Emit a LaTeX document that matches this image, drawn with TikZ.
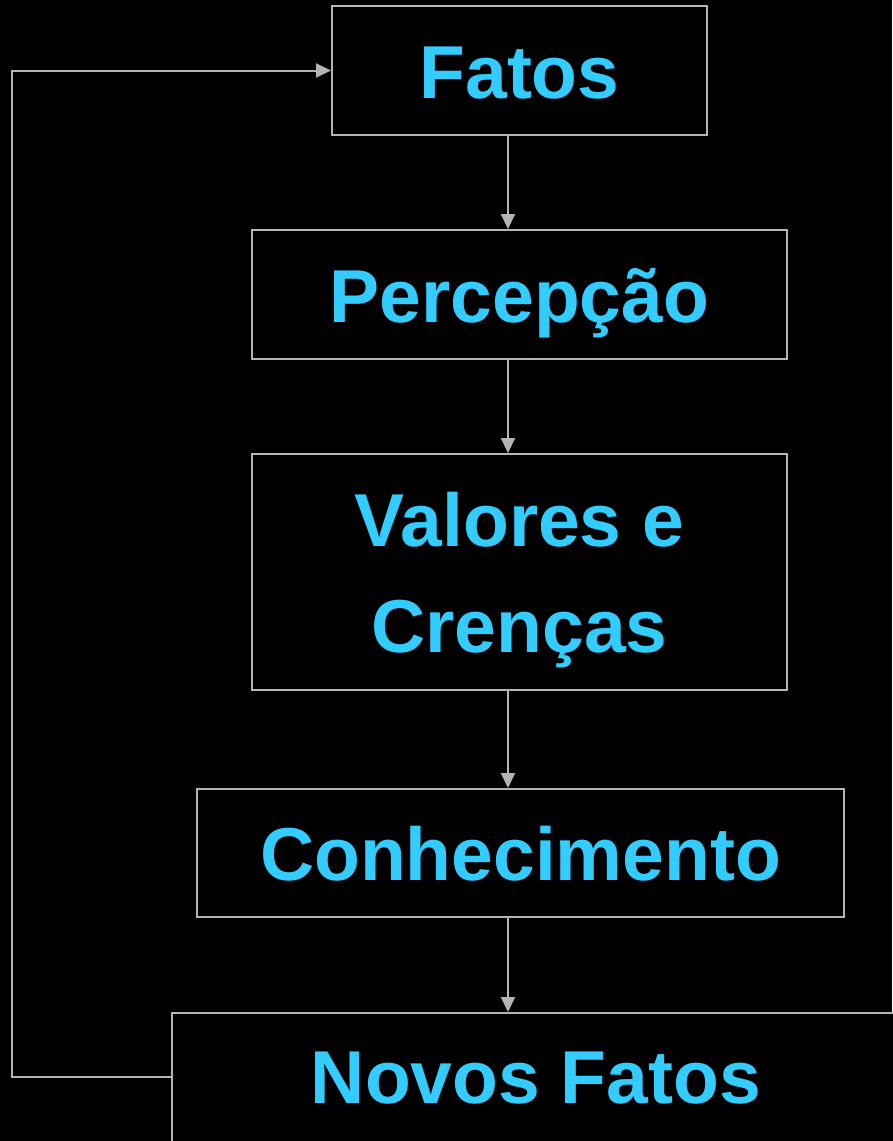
\documentclass[tikz,border=0pt]{standalone}
\usepackage{fontspec}
\setmainfont{Liberation Sans}
\usetikzlibrary{arrows.meta}
\definecolor{txtblue}{HTML}{33CCFF}
\definecolor{linegray}{HTML}{B4B4B4}
\begin{document}
\begin{tikzpicture}[x=1pt,y=-1pt,
  bigtext/.style={text=txtblue, font=\fontsize{75}{107}\selectfont\bfseries, inner sep=0pt,
    text height=55pt, text depth=0pt},
  box/.style={bigtext, draw=linegray, line width=2pt, fill=black},
  conn/.style={draw=linegray, line width=2pt, -{Triangle[length=15pt,width=14pt]}}]
\fill[black] (0,0) rectangle (892,1141);
\useasboundingbox (0,0) rectangle (892,1141);
\node[box, minimum width=375pt, minimum height=129pt] (fatos) at (519.5,70.5) {Fatos};
\node[box, minimum width=535pt, minimum height=129pt] (perc) at (519.5,294.5) {Percepção};
\node[box, minimum width=535pt, minimum height=236pt, text height=55pt, text depth=106.7pt] (val) at (519.5,572)
  {\vtop{\baselineskip=106.7pt\halign{\hfil#\hfil\cr Valores e\cr Crenças\cr}}};
\node[box, minimum width=647pt, minimum height=128pt] (con) at (520.5,853) {Conhecimento};
\node[box, minimum width=760pt, minimum height=160pt] (nf) at (552,1093) {};
\node[bigtext] (nft) at (536,1076) {Novos Fatos};
\coordinate (c1) at (508,0);
\draw[conn] (fatos.south -| c1) -- (perc.north -| c1);
\draw[conn] (perc.south -| c1) -- (val.north -| c1);
\draw[conn] (val.south -| c1) -- (con.north -| c1);
\draw[conn] (con.south -| c1) -- (nf.north -| c1);
\coordinate (lft) at (12,0);
\coordinate (fb) at (0,1077);
\draw[conn] (nf.west |- fb) -- (lft |- fb) -- (lft |- fatos) -- (fatos.west);
\end{tikzpicture}
\end{document}
